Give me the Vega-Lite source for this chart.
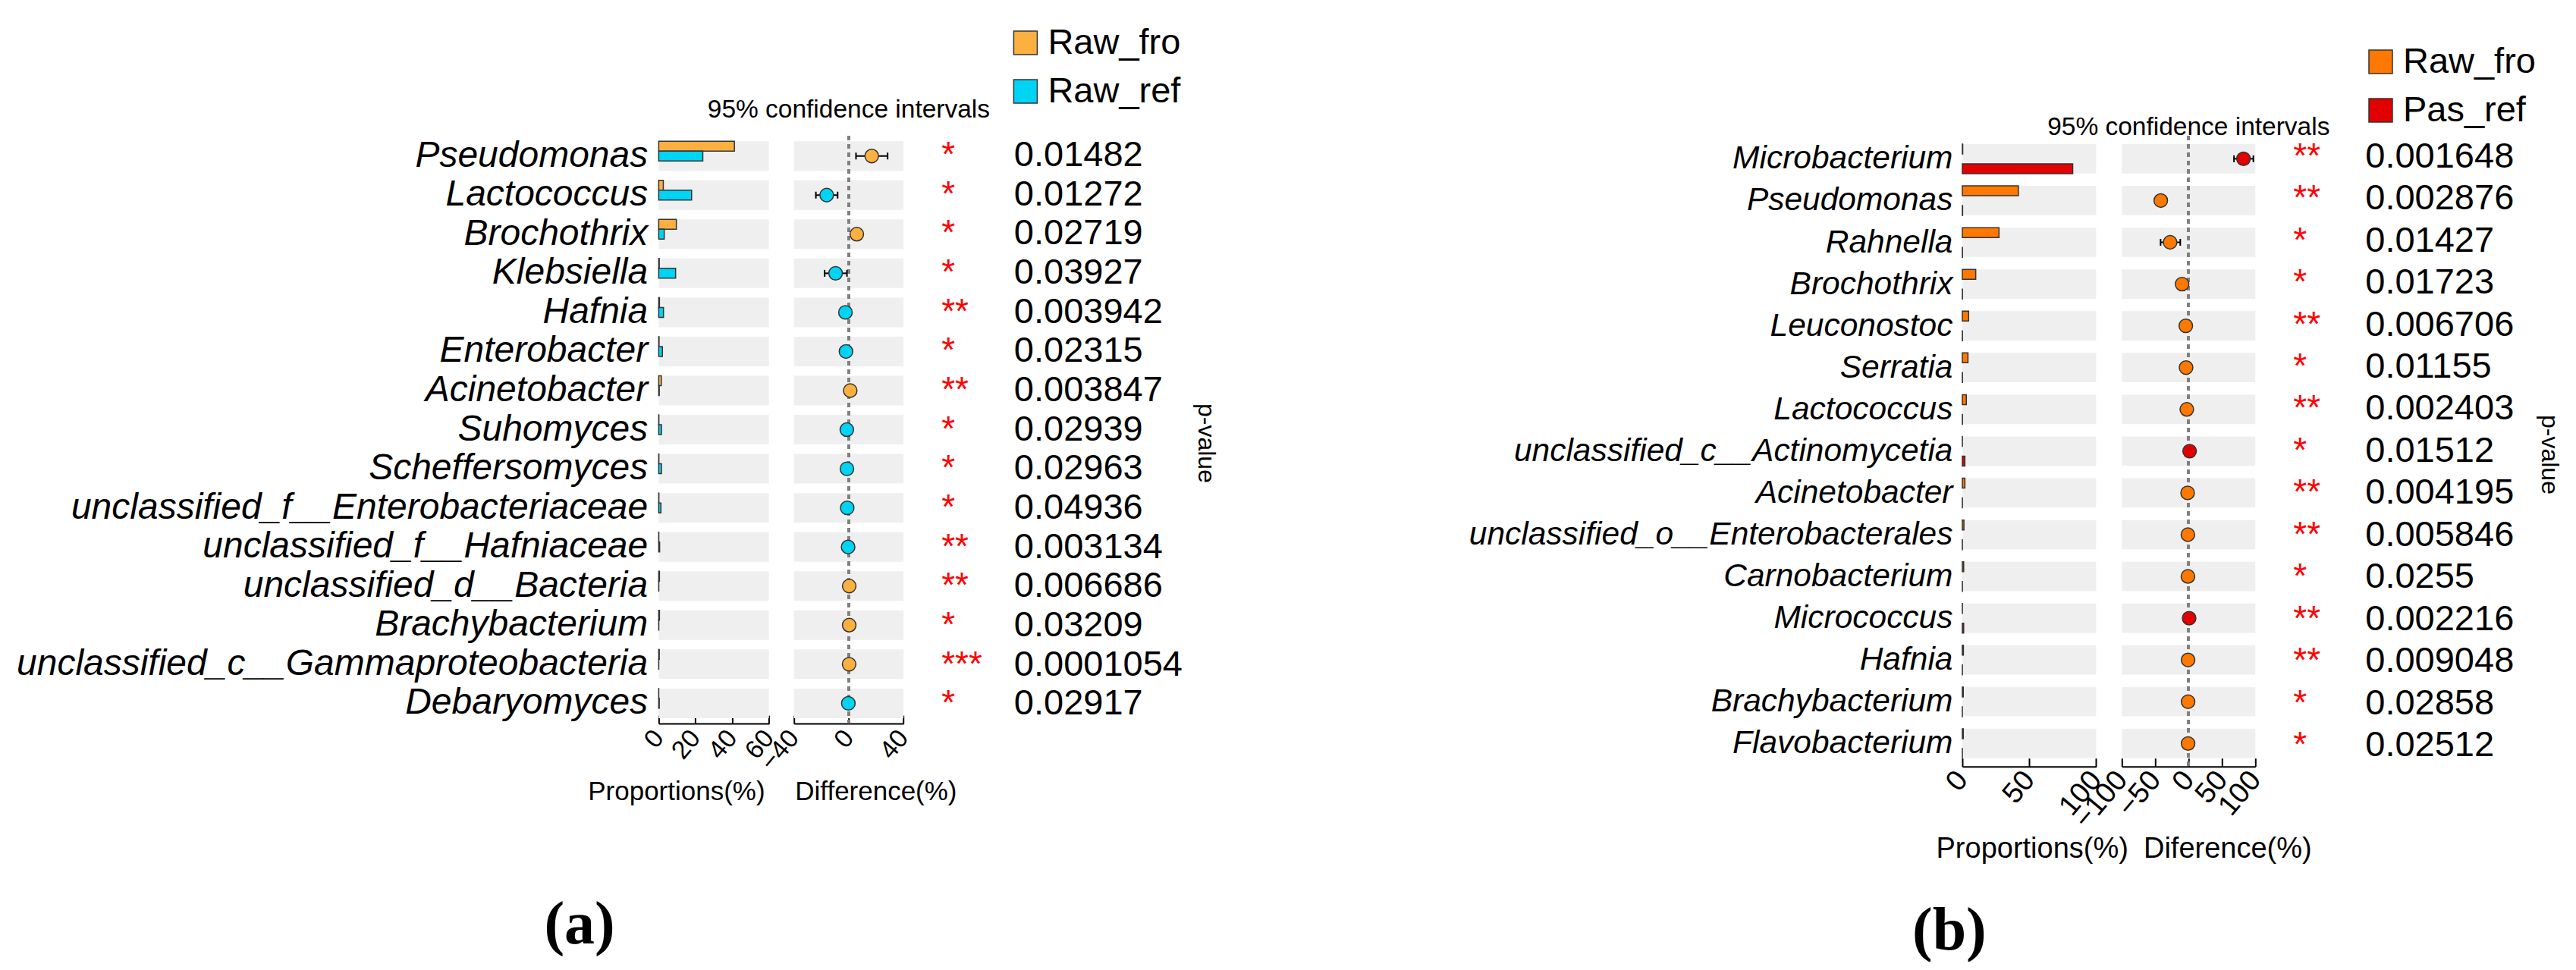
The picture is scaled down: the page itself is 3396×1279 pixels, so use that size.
{
  "$schema": "https://vega.github.io/schema/vega-lite/v6.json",
  "background": "white",
  "padding": {"left": 20.4, "top": 33, "right": 20, "bottom": 0},
  "config": {"view": {"stroke": null}, "font": "Liberation Sans", "axis": {"grid": false}, "title": {"color": "black"}},
  "datasets": {
    "a": [
      {"species": "Pseudomonas", "Raw_fro": 41.2, "Raw_ref": 24.0, "diff": 16.8, "lo": 5.3, "hi": 28.4, "enriched": "Raw_fro", "stars": "*", "p": "0.01482"},
      {"species": "Lactococcus", "Raw_fro": 2.5, "Raw_ref": 17.9, "diff": -16.1, "lo": -24.0, "hi": -8.1, "enriched": "Raw_ref", "stars": "*", "p": "0.01272"},
      {"species": "Brochothrix", "Raw_fro": 9.6, "Raw_ref": 3.0, "diff": 5.9, "lo": 3.9, "hi": 7.9, "enriched": "Raw_fro", "stars": "*", "p": "0.02719"},
      {"species": "Klebsiella", "Raw_fro": 0.3, "Raw_ref": 9.2, "diff": -9.6, "lo": -17.6, "hi": -1.3, "enriched": "Raw_ref", "stars": "*", "p": "0.03927"},
      {"species": "Hafnia", "Raw_fro": 0.4, "Raw_ref": 2.6, "diff": -2.4, "lo": -3.6, "hi": -1.2, "enriched": "Raw_ref", "stars": "**", "p": "0.003942"},
      {"species": "Enterobacter", "Raw_fro": 0.2, "Raw_ref": 2.0, "diff": -2.0, "lo": -3.0, "hi": -1.0, "enriched": "Raw_ref", "stars": "*", "p": "0.02315"},
      {"species": "Acinetobacter", "Raw_fro": 1.4, "Raw_ref": 0.3, "diff": 1.1, "lo": 0.4, "hi": 1.8, "enriched": "Raw_fro", "stars": "**", "p": "0.003847"},
      {"species": "Suhomyces", "Raw_fro": 0.1, "Raw_ref": 1.5, "diff": -1.4, "lo": -2.2, "hi": -0.6, "enriched": "Raw_ref", "stars": "*", "p": "0.02939"},
      {"species": "Scheffersomyces", "Raw_fro": 0.1, "Raw_ref": 1.5, "diff": -1.3, "lo": -2.1, "hi": -0.5, "enriched": "Raw_ref", "stars": "*", "p": "0.02963"},
      {"species": "unclassified_f__Enterobacteriaceae", "Raw_fro": 0.1, "Raw_ref": 1.2, "diff": -1.1, "lo": -1.9, "hi": -0.3, "enriched": "Raw_ref", "stars": "*", "p": "0.04936"},
      {"species": "unclassified_f__Hafniaceae", "Raw_fro": 0.05, "Raw_ref": 0.5, "diff": -0.45, "lo": -0.8, "hi": -0.1, "enriched": "Raw_ref", "stars": "**", "p": "0.003134"},
      {"species": "unclassified_d__Bacteria", "Raw_fro": 0.4, "Raw_ref": 0.05, "diff": 0.35, "lo": 0.1, "hi": 0.6, "enriched": "Raw_fro", "stars": "**", "p": "0.006686"},
      {"species": "Brachybacterium", "Raw_fro": 0.4, "Raw_ref": 0.05, "diff": 0.35, "lo": 0.1, "hi": 0.6, "enriched": "Raw_fro", "stars": "*", "p": "0.03209"},
      {"species": "unclassified_c__Gammaproteobacteria", "Raw_fro": 0.3, "Raw_ref": 0.02, "diff": 0.28, "lo": 0.1, "hi": 0.45, "enriched": "Raw_fro", "stars": "***", "p": "0.0001054"},
      {"species": "Debaryomyces", "Raw_fro": 0.02, "Raw_ref": 0.3, "diff": -0.28, "lo": -0.45, "hi": -0.1, "enriched": "Raw_ref", "stars": "*", "p": "0.02917"}
    ],
    "b": [
      {"species": "Microbacterium", "Raw_fro": 0.3, "Pas_ref": 82.5, "diff": 82.2, "lo": 68, "hi": 97, "enriched": "Pas_ref", "stars": "**", "p": "0.001648"},
      {"species": "Pseudomonas", "Raw_fro": 41.9, "Pas_ref": 0.2, "diff": -41.7, "lo": -44.5, "hi": -38.9, "enriched": "Raw_fro", "stars": "**", "p": "0.002876"},
      {"species": "Rahnella", "Raw_fro": 27.4, "Pas_ref": 0.1, "diff": -27.7, "lo": -42.0, "hi": -12.5, "enriched": "Raw_fro", "stars": "*", "p": "0.01427"},
      {"species": "Brochothrix", "Raw_fro": 10.0, "Pas_ref": 0.1, "diff": -9.8, "lo": -12.5, "hi": -7.1, "enriched": "Raw_fro", "stars": "*", "p": "0.01723"},
      {"species": "Leuconostoc", "Raw_fro": 4.7, "Pas_ref": 0.1, "diff": -4.2, "lo": -6.0, "hi": -2.4, "enriched": "Raw_fro", "stars": "**", "p": "0.006706"},
      {"species": "Serratia", "Raw_fro": 4.2, "Pas_ref": 0.1, "diff": -3.8, "lo": -5.5, "hi": -2.1, "enriched": "Raw_fro", "stars": "*", "p": "0.01155"},
      {"species": "Lactococcus", "Raw_fro": 3.0, "Pas_ref": 0.1, "diff": -2.7, "lo": -4.0, "hi": -1.4, "enriched": "Raw_fro", "stars": "**", "p": "0.002403"},
      {"species": "unclassified_c__Actinomycetia", "Raw_fro": 0.05, "Pas_ref": 1.9, "diff": 1.5, "lo": 0.5, "hi": 2.5, "enriched": "Pas_ref", "stars": "*", "p": "0.01512"},
      {"species": "Acinetobacter", "Raw_fro": 1.9, "Pas_ref": 0.05, "diff": -1.5, "lo": -2.5, "hi": -0.5, "enriched": "Raw_fro", "stars": "**", "p": "0.004195"},
      {"species": "unclassified_o__Enterobacterales", "Raw_fro": 1.2, "Pas_ref": 0.05, "diff": -1.1, "lo": -1.8, "hi": -0.4, "enriched": "Raw_fro", "stars": "**", "p": "0.005846"},
      {"species": "Carnobacterium", "Raw_fro": 1.0, "Pas_ref": 0.05, "diff": -1.0, "lo": -1.7, "hi": -0.3, "enriched": "Raw_fro", "stars": "*", "p": "0.0255"},
      {"species": "Micrococcus", "Raw_fro": 0.05, "Pas_ref": 1.0, "diff": 0.8, "lo": 0.2, "hi": 1.4, "enriched": "Pas_ref", "stars": "**", "p": "0.002216"},
      {"species": "Hafnia", "Raw_fro": 0.8, "Pas_ref": 0.05, "diff": -0.8, "lo": -1.3, "hi": -0.3, "enriched": "Raw_fro", "stars": "**", "p": "0.009048"},
      {"species": "Brachybacterium", "Raw_fro": 0.7, "Pas_ref": 0.02, "diff": -0.8, "lo": -1.3, "hi": -0.3, "enriched": "Raw_fro", "stars": "*", "p": "0.02858"},
      {"species": "Flavobacterium", "Raw_fro": 0.7, "Pas_ref": 0.02, "diff": -0.8, "lo": -1.3, "hi": -0.3, "enriched": "Raw_fro", "stars": "*", "p": "0.02512"}
    ]
  },
  "bounds": "flush",
  "spacing": 1718.6,
  "resolve": {"scale": {"color": "independent"}},
  "hconcat": [
    {
      "title": {"text": "(a)", "orient": "bottom", "anchor": "start", "frame": "group", "font": "Liberation Serif", "fontSize": 80, "fontWeight": "bold", "dx": -151, "offset": 120},
      "bounds": "flush",
      "spacing": 32.3,
      "hconcat": [
        {
          "width": 145.3, "height": 775.1,
          "data": {"name": "a"},
          "encoding": {
            "y": {"field": "species", "type": "nominal",
              "scale": {"domain": ["Pseudomonas","Lactococcus","Brochothrix","Klebsiella","Hafnia","Enterobacter","Acinetobacter","Suhomyces","Scheffersomyces","unclassified_f__Enterobacteriaceae","unclassified_f__Hafniaceae","unclassified_d__Bacteria","Brachybacterium","unclassified_c__Gammaproteobacteria","Debaryomyces"], "paddingInner": 0.2435, "paddingOuter": 0.14},
              "axis": {"title": null, "domain": false, "ticks": false, "labelFontSize": 48, "labelFontStyle": "italic", "labelColor": "black", "labelPadding": 14.7, "labelLimit": 2000}}
          },
          "layer": [
            {"mark": {"type": "bar", "color": "#EFEFEF"}},
            {
              "transform": [{"fold": ["Raw_fro", "Raw_ref"], "as": ["group", "prop"]}],
              "mark": {"type": "bar", "stroke": "#333333", "strokeWidth": 1.5},
              "encoding": {
                "yOffset": {"field": "group", "type": "nominal", "sort": ["Raw_fro", "Raw_ref"], "scale": {"paddingInner": 0, "paddingOuter": 0}},
                "x": {"field": "prop", "type": "quantitative", "stack": null, "scale": {"domain": [0, 60], "nice": false},
                  "axis": {"values": [0, 20, 40, 60], "title": "Proportions(%)", "domainColor": "black", "domainWidth": 2, "tickColor": "black", "tickWidth": 2, "tickSize": -11, "labelAngle": -50, "labelAlign": "right", "labelBaseline": "middle", "labelFontSize": 34, "labelColor": "black", "labelPadding": 24, "labelFlush": false, "labelOverlap": false, "titleFontSize": 35, "titleFontWeight": "normal", "titleColor": "black", "titleX": 23, "titleY": 89, "titleBaseline": "middle", "titleAlign": "center"}},
                "color": {"field": "group", "type": "nominal", "scale": {"domain": ["Raw_fro", "Raw_ref"], "range": ["#FBB040", "#00D4F5"]},
                  "legend": {"orient": "none", "legendX": 460, "legendY": -146, "title": null, "symbolType": "square", "symbolSize": 961, "symbolStrokeColor": "#333333", "symbolStrokeWidth": 1.5, "labelFontSize": 47, "labelColor": "black", "labelOffset": 6, "labelLimit": 1000, "rowPadding": 16, "padding": 0}}
              }
            }
          ]
        },
        {
          "width": 144.4, "height": 775.1,
          "data": {"name": "a"},
          "title": {"text": "95% confidence intervals", "fontSize": 33.5, "fontWeight": "normal", "baseline": "alphabetic", "offset": -11, "anchor": "middle", "frame": "group"},
          "encoding": {
            "y": {"field": "species", "type": "nominal",
              "scale": {"domain": ["Pseudomonas","Lactococcus","Brochothrix","Klebsiella","Hafnia","Enterobacter","Acinetobacter","Suhomyces","Scheffersomyces","unclassified_f__Enterobacteriaceae","unclassified_f__Hafniaceae","unclassified_d__Bacteria","Brachybacterium","unclassified_c__Gammaproteobacteria","Debaryomyces"], "paddingInner": 0.2435, "paddingOuter": 0.14},
              "axis": null}
          },
          "layer": [
            {"mark": {"type": "bar", "color": "#EFEFEF"}},
            {"mark": {"type": "rule", "color": "#808080", "strokeWidth": 3, "strokeDash": [6, 5]},
              "encoding": {"y": null, "x": {"datum": 0, "type": "quantitative", "scale": {"domain": [-40, 40], "nice": false}}}},
            {"mark": {"type": "rule", "color": "black", "strokeWidth": 2},
              "encoding": {"x": {"field": "lo", "type": "quantitative", "scale": {"domain": [-40, 40], "nice": false}}, "x2": {"field": "hi"}}},
            {"mark": {"type": "tick", "color": "black", "thickness": 2, "size": 9, "opacity": 1},
              "encoding": {"x": {"field": "lo", "type": "quantitative", "scale": {"domain": [-40, 40], "nice": false}}}},
            {"mark": {"type": "tick", "color": "black", "thickness": 2, "size": 9, "opacity": 1},
              "encoding": {"x": {"field": "hi", "type": "quantitative", "scale": {"domain": [-40, 40], "nice": false}}}},
            {"mark": {"type": "point", "shape": "circle", "filled": true, "size": 320, "stroke": "#333333", "strokeWidth": 1.5, "opacity": 1},
              "encoding": {
                "x": {"field": "diff", "type": "quantitative", "scale": {"domain": [-40, 40], "nice": false},
                  "axis": {"values": [-40, -20, 0, 20, 40], "title": "Difference(%)", "domainColor": "black", "domainWidth": 2, "tickColor": "black", "tickWidth": 2, "tickSize": -11, "labelAngle": -50, "labelAlign": "right", "labelBaseline": "middle", "labelFontSize": 34, "labelColor": "black", "labelPadding": 24, "labelFlush": false, "labelOverlap": false, "titleFontSize": 35, "titleFontWeight": "normal", "titleColor": "black", "titleX": 107.7, "titleY": 89, "titleBaseline": "middle", "titleAlign": "center"}},
                "color": {"field": "enriched", "type": "nominal", "scale": {"domain": ["Raw_fro", "Raw_ref"], "range": ["#FBB040", "#00D4F5"]},
                  "legend": {"orient": "none", "legendX": 460, "legendY": -146, "title": null, "symbolType": "square", "symbolSize": 961, "symbolStrokeColor": "#333333", "symbolStrokeWidth": 1.5, "labelFontSize": 47, "labelColor": "black", "labelOffset": 6, "labelLimit": 1000, "rowPadding": 16, "padding": 0}}
              }
            }
          ]
        },
        {
          "width": 130, "height": 775.1,
          "data": {"name": "a"},
          "encoding": {
            "y": {"field": "species", "type": "nominal",
              "scale": {"domain": ["Pseudomonas","Lactococcus","Brochothrix","Klebsiella","Hafnia","Enterobacter","Acinetobacter","Suhomyces","Scheffersomyces","unclassified_f__Enterobacteriaceae","unclassified_f__Hafniaceae","unclassified_d__Bacteria","Brachybacterium","unclassified_c__Gammaproteobacteria","Debaryomyces"], "paddingInner": 0.2435, "paddingOuter": 0.14},
              "axis": {"orient": "right", "labels": false, "ticks": false, "domain": false, "title": "p-value", "titleFontSize": 32, "titleFontWeight": "normal", "titleColor": "black", "titleAngle": 90, "titleX": 236, "titleY": 405, "titleBaseline": "middle", "titleAlign": "center"}}
          },
          "layer": [
            {"mark": {"type": "text", "align": "left", "baseline": "middle", "color": "#FF0000", "fontSize": 46},
              "encoding": {"x": {"datum": "star", "type": "nominal", "scale": {"type": "point", "domain": ["star", "p"], "padding": 0.1792}, "axis": null}, "text": {"field": "stars"}}},
            {"mark": {"type": "text", "align": "left", "baseline": "middle", "color": "black", "fontSize": 47},
              "encoding": {"x": {"datum": "p", "type": "nominal", "scale": {"type": "point", "domain": ["star", "p"], "padding": 0.1792}, "axis": null}, "text": {"field": "p"}}}
          ]
        }
      ]
    },
    {
      "title": {"text": "(b)", "orient": "bottom", "anchor": "start", "frame": "group", "font": "Liberation Serif", "fontSize": 80, "fontWeight": "bold", "dx": -66, "offset": 50},
      "bounds": "flush",
      "spacing": 33.3,
      "hconcat": [
        {
          "width": 176.4, "height": 831.7,
          "data": {"name": "b"},
          "encoding": {
            "y": {"field": "species", "type": "nominal",
              "scale": {"domain": ["Microbacterium","Pseudomonas","Rahnella","Brochothrix","Leuconostoc","Serratia","Lactococcus","unclassified_c__Actinomycetia","Acinetobacter","unclassified_o__Enterobacterales","Carnobacterium","Micrococcus","Hafnia","Brachybacterium","Flavobacterium"], "paddingInner": 0.297, "paddingOuter": 0.2},
              "axis": {"title": null, "domain": false, "ticks": false, "labelFontSize": 42.5, "labelFontStyle": "italic", "labelColor": "black", "labelPadding": 13, "labelLimit": 2000}}
          },
          "layer": [
            {"mark": {"type": "bar", "color": "#EFEFEF"}},
            {
              "transform": [{"fold": ["Raw_fro", "Pas_ref"], "as": ["group", "prop"]}],
              "mark": {"type": "bar", "stroke": "#333333", "strokeWidth": 1.5},
              "encoding": {
                "yOffset": {"field": "group", "type": "nominal", "sort": ["Raw_fro", "Pas_ref"], "scale": {"paddingInner": 0, "paddingOuter": 0}},
                "x": {"field": "prop", "type": "quantitative", "stack": null, "scale": {"domain": [0, 100], "nice": false},
                  "axis": {"values": [0, 50, 100], "title": "Proportions(%)", "domainColor": "black", "domainWidth": 2, "tickColor": "black", "tickWidth": 2, "tickSize": -11, "labelAngle": -50, "labelAlign": "right", "labelBaseline": "middle", "labelFontSize": 38, "labelColor": "black", "labelPadding": 22, "labelFlush": false, "labelOverlap": false, "titleFontSize": 38, "titleFontWeight": "normal", "titleColor": "black", "titleX": 91.7, "titleY": 109, "titleBaseline": "middle", "titleAlign": "center"}},
                "color": {"field": "group", "type": "nominal", "scale": {"domain": ["Raw_fro", "Pas_ref"], "range": ["#FF7800", "#E30000"]},
                  "legend": {"orient": "none", "legendX": 528, "legendY": -121, "title": null, "symbolType": "square", "symbolSize": 961, "symbolStrokeColor": "#333333", "symbolStrokeWidth": 1.5, "labelFontSize": 47, "labelColor": "black", "labelOffset": 6, "labelLimit": 1000, "rowPadding": 16, "padding": 0}}
              }
            }
          ]
        },
        {
          "width": 176, "height": 831.7,
          "data": {"name": "b"},
          "title": {"text": "95% confidence intervals", "fontSize": 33.5, "fontWeight": "normal", "baseline": "alphabetic", "offset": -34, "anchor": "middle", "frame": "group"},
          "encoding": {
            "y": {"field": "species", "type": "nominal",
              "scale": {"domain": ["Microbacterium","Pseudomonas","Rahnella","Brochothrix","Leuconostoc","Serratia","Lactococcus","unclassified_c__Actinomycetia","Acinetobacter","unclassified_o__Enterobacterales","Carnobacterium","Micrococcus","Hafnia","Brachybacterium","Flavobacterium"], "paddingInner": 0.297, "paddingOuter": 0.2},
              "axis": null}
          },
          "layer": [
            {"mark": {"type": "bar", "color": "#EFEFEF"}},
            {"mark": {"type": "rule", "color": "#808080", "strokeWidth": 3, "strokeDash": [6, 5]},
              "encoding": {"y": null, "x": {"datum": 0, "type": "quantitative", "scale": {"domain": [-100, 100], "nice": false}}}},
            {"mark": {"type": "rule", "color": "black", "strokeWidth": 2},
              "encoding": {"x": {"field": "lo", "type": "quantitative", "scale": {"domain": [-100, 100], "nice": false}}, "x2": {"field": "hi"}}},
            {"mark": {"type": "tick", "color": "black", "thickness": 2, "size": 9, "opacity": 1},
              "encoding": {"x": {"field": "lo", "type": "quantitative", "scale": {"domain": [-100, 100], "nice": false}}}},
            {"mark": {"type": "tick", "color": "black", "thickness": 2, "size": 9, "opacity": 1},
              "encoding": {"x": {"field": "hi", "type": "quantitative", "scale": {"domain": [-100, 100], "nice": false}}}},
            {"mark": {"type": "point", "shape": "circle", "filled": true, "size": 320, "stroke": "#333333", "strokeWidth": 1.5, "opacity": 1},
              "encoding": {
                "x": {"field": "diff", "type": "quantitative", "scale": {"domain": [-100, 100], "nice": false},
                  "axis": {"values": [-100, -50, 0, 50, 100], "title": "Diference(%)", "domainColor": "black", "domainWidth": 2, "tickColor": "black", "tickWidth": 2, "tickSize": -11, "labelAngle": -50, "labelAlign": "right", "labelBaseline": "middle", "labelFontSize": 38, "labelColor": "black", "labelPadding": 22, "labelFlush": false, "labelOverlap": false, "titleFontSize": 38, "titleFontWeight": "normal", "titleColor": "black", "titleX": 139, "titleY": 109, "titleBaseline": "middle", "titleAlign": "center"}},
                "color": {"field": "enriched", "type": "nominal", "scale": {"domain": ["Raw_fro", "Pas_ref"], "range": ["#FF7800", "#E30000"]},
                  "legend": {"orient": "none", "legendX": 528, "legendY": -121, "title": null, "symbolType": "square", "symbolSize": 961, "symbolStrokeColor": "#333333", "symbolStrokeWidth": 1.5, "labelFontSize": 47, "labelColor": "black", "labelOffset": 6, "labelLimit": 1000, "rowPadding": 16, "padding": 0}}
              }
            }
          ]
        },
        {
          "width": 128.4, "height": 831.7,
          "data": {"name": "b"},
          "encoding": {
            "y": {"field": "species", "type": "nominal",
              "scale": {"domain": ["Microbacterium","Pseudomonas","Rahnella","Brochothrix","Leuconostoc","Serratia","Lactococcus","unclassified_c__Actinomycetia","Acinetobacter","unclassified_o__Enterobacterales","Carnobacterium","Micrococcus","Hafnia","Brachybacterium","Flavobacterium"], "paddingInner": 0.297, "paddingOuter": 0.2},
              "axis": {"orient": "right", "labels": false, "ticks": false, "domain": false, "title": "p-value", "titleFontSize": 32, "titleFontWeight": "normal", "titleColor": "black", "titleAngle": 90, "titleX": 225.3, "titleY": 420, "titleBaseline": "middle", "titleAlign": "center"}}
          },
          "layer": [
            {"mark": {"type": "text", "align": "left", "baseline": "middle", "color": "#FF0000", "fontSize": 46},
              "encoding": {"x": {"datum": "star", "type": "nominal", "scale": {"type": "point", "domain": ["star", "p"], "padding": 0.1758}, "axis": null}, "text": {"field": "stars"}}},
            {"mark": {"type": "text", "align": "left", "baseline": "middle", "color": "black", "fontSize": 47},
              "encoding": {"x": {"datum": "p", "type": "nominal", "scale": {"type": "point", "domain": ["star", "p"], "padding": 0.1758}, "axis": null}, "text": {"field": "p"}}}
          ]
        }
      ]
    }
  ]
}
